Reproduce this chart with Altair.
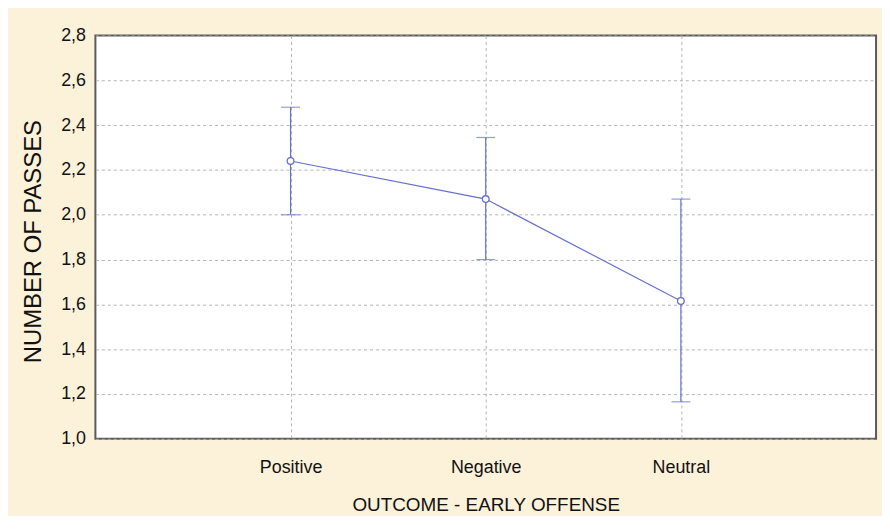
import altair as alt
import pandas as pd

categories = ["Positive", "Negative", "Neutral"]
means = [2.24, 2.07, 1.615]
upper = [2.48, 2.345, 2.07]
lower = [2.0, 1.80, 1.165]

df = pd.DataFrame({"cat": categories, "mean": means, "upper": upper, "lower": lower})

LINE = "#6670cc"
FONT = "Liberation Sans, Arial, sans-serif"

x = alt.X(
    "cat:N",
    sort=categories,
    scale=alt.Scale(type="point", padding=1),
    axis=alt.Axis(
        title="OUTCOME - EARLY OFFENSE",
        labelAngle=0,
        ticks=False,
        domain=False,
        grid=True,
        gridDash=[3, 3],
        gridColor="#b3b3b3",
        labelFont=FONT,
        labelFontSize=18,
        labelColor="#111",
        labelBaseline="alphabetic",
        labelPadding=34,
        titleFont=FONT,
        titleFontSize=19,
        titleFontWeight="normal",
        titleColor="#111",
        titleBaseline="alphabetic",
        titleY=72,
    ),
)

yscale = alt.Scale(domain=[1.0, 2.8], nice=False, zero=False)
yaxis = alt.Axis(
    title="NUMBER OF PASSES",
    values=[1.0, 1.2, 1.4, 1.6, 1.8, 2.0, 2.2, 2.4, 2.6, 2.8],
    labelExpr="replace(format(datum.value, '.1f'), '.', ',')",
    ticks=False,
    domain=False,
    grid=True,
    gridDash=[3, 3],
    gridColor="#b3b3b3",
    labelFont=FONT,
    labelFontSize=18,
    labelColor="#111",
    labelPadding=10,
    titleFont=FONT,
    titleFontSize=24,
    titleFontWeight="normal",
    titleColor="#111",
    titleX=-62,
    titleY=207,
    titleBaseline="middle",
    titleAlign="center",
)

base = alt.Chart(df)

rules = base.mark_rule(color=LINE, strokeWidth=1.2).encode(
    x=x, y=alt.Y("lower:Q", scale=yscale, axis=yaxis), y2="upper:Q"
)
cap_hi = base.mark_tick(color=LINE, size=19, thickness=1.2).encode(x=x, y=alt.Y("upper:Q", scale=yscale))
cap_lo = base.mark_tick(color=LINE, size=19, thickness=1.2).encode(x=x, y=alt.Y("lower:Q", scale=yscale))
line = base.mark_line(color=LINE, strokeWidth=1.2).encode(x=x, y=alt.Y("mean:Q", scale=yscale))
pts = base.mark_point(
    shape="circle", filled=False, fill="white", fillOpacity=1, stroke=LINE, strokeWidth=1.3, size=45, opacity=1
).encode(x=x, y=alt.Y("mean:Q", scale=yscale))

chart = (
    alt.layer(rules, cap_hi, cap_lo, line, pts)
    .properties(
        width=786,
        height=406,
        autosize=alt.AutoSizeParams(type="none"),
        padding={"left": 88, "top": 26, "right": 6, "bottom": 76},
        background="#fcf2da",
    )
    .configure_view(stroke="#5a5a5a", strokeWidth=2, fill="white")
)

chart.save("out.html", embed_options={"renderer": "svg", "actions": False})
